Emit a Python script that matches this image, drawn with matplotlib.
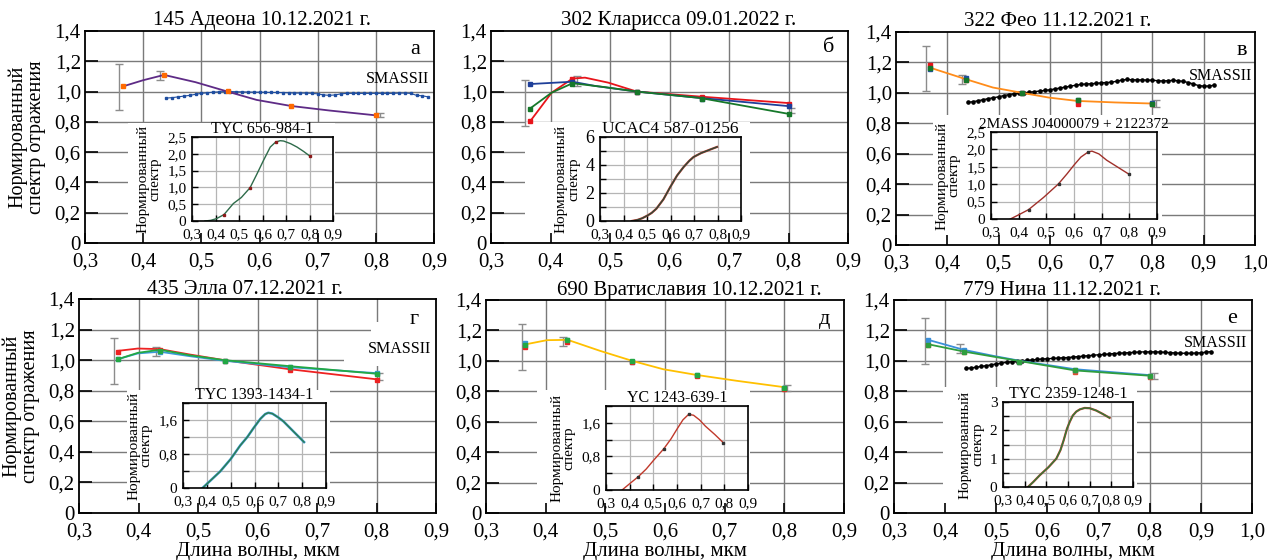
import matplotlib
matplotlib.use('Agg')
import matplotlib.pyplot as plt
from matplotlib.patches import Rectangle

plt.rcParams['font.family'] = 'serif'
plt.rcParams['font.serif'] = ['Liberation Serif', 'DejaVu Serif']

W, H = 1267, 560

X_TICKS = [0.3, 0.4, 0.5, 0.6, 0.7, 0.8, 0.9]
X_TICKS_WIDE = [0.3, 0.4, 0.5, 0.6, 0.7, 0.8, 0.9, 1.0]
Y_TICKS = [0, 0.2, 0.4, 0.6, 0.8, 1.0, 1.2, 1.4]

# UBVRI band centres (marker positions)
BANDS = [0.366, 0.436, 0.545, 0.654, 0.80]

# SMASSII wavelength grid
SMASS_WL = [0.44, 0.45, 0.46, 0.47, 0.48, 0.49, 0.50, 0.51, 0.52, 0.53, 0.54, 0.55,
            0.56, 0.57, 0.58, 0.59, 0.60, 0.61, 0.62, 0.63, 0.64, 0.65, 0.66, 0.67,
            0.68, 0.69, 0.70, 0.71, 0.72, 0.73, 0.74, 0.75, 0.76, 0.77, 0.78, 0.79,
            0.80, 0.81, 0.82, 0.83, 0.84, 0.85, 0.86, 0.87, 0.88, 0.89, 0.90, 0.91, 0.92]
SMASS_A = [0.957, 0.960, 0.965, 0.970, 0.975, 0.982, 0.988, 0.992, 0.996, 0.998,
           1.000, 1.000, 0.999, 0.998, 0.997, 0.996, 0.996, 0.995, 0.994, 0.994,
           0.993, 0.992, 0.990, 0.990, 0.990, 0.988, 0.985, 0.978, 0.975, 0.978,
           0.985, 0.988, 0.988, 0.988, 0.988, 0.988, 0.988, 0.988, 0.988, 0.988,
           0.990, 0.990, 0.988, 0.975, 0.972, 0.965]
SMASS_C = [0.937, 0.942, 0.948, 0.955, 0.962, 0.968, 0.974, 0.982, 0.988, 0.994,
           0.998, 1.000, 1.004, 1.008, 1.012, 1.016, 1.020, 1.026, 1.032, 1.038,
           1.044, 1.050, 1.055, 1.058, 1.060, 1.062, 1.066, 1.068, 1.070, 1.076,
           1.084, 1.088, 1.086, 1.085, 1.085, 1.084, 1.083, 1.080, 1.078, 1.080,
           1.082, 1.080, 1.075, 1.068, 1.058, 1.048, 1.044, 1.045, 1.050]
SMASS_F = [0.950, 0.953, 0.958, 0.963, 0.968, 0.974, 0.980, 0.985, 0.990, 0.994,
           0.997, 1.000, 1.003, 1.006, 1.009, 1.012, 1.014, 1.016, 1.018, 1.020,
           1.022, 1.025, 1.028, 1.031, 1.034, 1.037, 1.040, 1.042, 1.045, 1.048,
           1.050, 1.052, 1.054, 1.056, 1.058, 1.059, 1.059, 1.059, 1.058, 1.056,
           1.054, 1.052, 1.050, 1.050, 1.050, 1.051, 1.053, 1.057, 1.061]

# а) 145 Адеона
A_LX = [0.366, 0.40, 0.436, 0.49, 0.545, 0.595, 0.654, 0.72, 0.80]
A_LY = [1.035, 1.075, 1.11, 1.062, 1.0, 0.945, 0.905, 0.875, 0.843]
A_PTS = [1.04, 1.11, 1.004, 0.905, 0.845]
A_ERR_X = [0.359, 0.429, 0.807]
A_ERR_Y = [1.03, 1.107, 0.845]
A_ERR = [0.15, 0.03, 0.016]

# б) 302 Кларисса
B_BLUE_X = [0.367, 0.437, 0.475, 0.545, 0.651, 0.797]
B_BLUE_Y = [1.05, 1.065, 1.037, 1.0, 0.958, 0.905]
B_RED_X = [0.367, 0.402, 0.437, 0.458, 0.497, 0.545, 0.651, 0.797]
B_RED_Y = [0.81, 0.993, 1.086, 1.092, 1.059, 1.0, 0.967, 0.925]
B_GREEN_X = [0.367, 0.402, 0.437, 0.49, 0.545, 0.651, 0.797]
B_GREEN_Y = [0.892, 0.993, 1.055, 1.03, 1.0, 0.958, 0.855]
B_BLUE_PTS = [1.047, 1.06, 1.0, 0.954, 0.906]
B_RED_PTS = [0.807, 1.082, 1.0, 0.963, 0.921]
B_GREEN_PTS = [0.888, 1.051, 0.998, 0.954, 0.849]
B_ERR_X = [0.357, 0.444, 0.805]
B_ERR_Y = [0.924, 1.067, 0.873]
B_ERR = [0.15, 0.033, 0.017]

# в) 322 Фео
C_LX = [0.366, 0.436, 0.489, 0.546, 0.598, 0.653, 0.727, 0.798]
C_LY = [1.166, 1.09, 1.035, 1.0, 0.969, 0.947, 0.937, 0.93]
C_BLUE_PTS = [1.16, 1.095, 1.0, 0.955, 0.932]
C_RED_PTS = [1.18, 1.085, 0.998, 0.928, 0.925]
C_GREEN_PTS = [1.165, 1.085, 1.0, 0.95, 0.928]
C_ERR_X = [0.358, 0.428, 0.806]
C_ERR_Y = [1.16, 1.089, 0.93]
C_ERR = [0.15, 0.028, 0.022]

# г) 435 Элла
D_LX = [0.366, 0.399, 0.436, 0.486, 0.544, 0.653, 0.797]
D_RED_Y = [1.061, 1.076, 1.072, 1.037, 1.0, 0.941, 0.876]
D_BLUE_Y = [1.007, 1.044, 1.055, 1.026, 0.996, 0.954, 0.916]
D_GREEN_Y = [1.007, 1.048, 1.068, 1.032, 1.0, 0.961, 0.912]
D_RED_PTS = [1.056, 1.065, 0.995, 0.933, 0.868]
D_BLUE_PTS = [1.005, 1.055, 0.995, 0.952, 0.914]
D_GREEN_PTS = [1.005, 1.062, 0.995, 0.955, 0.909]
D_ERR_X = [0.358, 0.43, 0.805]
D_ERR_Y = [0.996, 1.055, 0.893]
D_ERR = [0.15, 0.028, 0.024]

# д) 690 Вратиславия
E_LX = [0.367, 0.402, 0.437, 0.491, 0.545, 0.597, 0.652, 0.72, 0.796]
E_LY = [1.109, 1.136, 1.138, 1.066, 1.0, 0.945, 0.908, 0.869, 0.829]
E_BLUE_PTS = [1.12, 1.135, 0.995, 0.905, 0.82]
E_RED_PTS = [1.09, 1.125, 0.995, 0.9, 0.818]
E_GREEN_PTS = [1.105, 1.137, 0.997, 0.907, 0.82]
E_ERR_X = [0.36, 0.429, 0.805]
E_ERR_Y = [1.091, 1.128, 0.82]
E_ERR = [0.15, 0.03, 0.02]

# е) 779 Нина
F_LX = [0.367, 0.437, 0.494, 0.547, 0.654, 0.801]
F_BLUE_Y = [1.138, 1.072, 1.033, 1.0, 0.945, 0.906]
F_GREEN_Y = [1.109, 1.061, 1.028, 0.998, 0.937, 0.902]
F_BLUE_PTS = [1.135, 1.073, 0.99, 0.942, 0.9]
F_RED_PTS = [1.105, 1.055, 0.99, 0.928, 0.897]
F_GREEN_PTS = [1.104, 1.058, 0.993, 0.937, 0.9]
F_ERR_X = [0.36, 0.429, 0.809]
F_ERR_Y = [1.132, 1.082, 0.9]
F_ERR = [0.152, 0.028, 0.019]

# comparison star spectra (insets)
IA_X = [0.355, 0.38, 0.404, 0.436, 0.476, 0.51, 0.547, 0.575, 0.604, 0.633, 0.656,
        0.675, 0.69, 0.72, 0.747, 0.775, 0.80]
IA_Y = [0.0, 0.02, 0.07, 0.19, 0.52, 0.70, 0.99, 1.38, 1.8, 2.2, 2.35,
        2.39, 2.38, 2.3, 2.2, 2.07, 1.94]
IA_DOT_X = [0.436, 0.547, 0.656, 0.80]
IA_DOT_Y = [0.19, 0.99, 2.35, 1.94]
IB_X = [0.435, 0.46, 0.48, 0.503, 0.52, 0.54, 0.57, 0.599, 0.628, 0.656, 0.68,
        0.698, 0.73, 0.765, 0.798]
IB_Y = [0.0, 0.08, 0.2, 0.4, 0.58, 0.88, 1.55, 2.43, 3.25, 3.86, 4.3,
        4.57, 4.85, 5.08, 5.29]
IC_X = [0.37, 0.40, 0.436, 0.49, 0.544, 0.575, 0.60, 0.625, 0.652, 0.665, 0.69,
        0.718, 0.76, 0.798]
IC_Y = [0.0, 0.12, 0.27, 0.62, 1.01, 1.3, 1.55, 1.78, 1.93, 1.95, 1.87,
        1.69, 1.48, 1.29]
IC_DOT_X = [0.436, 0.544, 0.652, 0.798]
IC_DOT_Y = [0.27, 1.01, 1.93, 1.29]
ID_X = [0.382, 0.42, 0.456, 0.50, 0.54, 0.57, 0.596, 0.625, 0.645, 0.658, 0.675,
        0.70, 0.721, 0.76, 0.808]
ID_Y = [0.0, 0.2, 0.39, 0.68, 1.0, 1.2, 1.41, 1.63, 1.74, 1.77, 1.75,
        1.66, 1.57, 1.35, 1.08]
IE_X = [0.368, 0.40, 0.437, 0.47, 0.50, 0.544, 0.575, 0.60, 0.625, 0.649, 0.67,
        0.695, 0.72, 0.76, 0.795]
IE_Y = [0.0, 0.15, 0.32, 0.5, 0.70, 0.98, 1.22, 1.45, 1.67, 1.80, 1.78,
        1.67, 1.52, 1.32, 1.13]
IE_DOT_X = [0.437, 0.544, 0.649, 0.795]
IE_DOT_Y = [0.32, 0.98, 1.80, 1.13]
IF_X = [0.415, 0.44, 0.469, 0.51, 0.546, 0.565, 0.58, 0.595, 0.608, 0.622, 0.638,
        0.655, 0.677, 0.70, 0.73, 0.76, 0.792]
IF_Y = [0.0, 0.18, 0.41, 0.7, 1.0, 1.3, 1.65, 2.05, 2.3, 2.52, 2.66,
        2.74, 2.79, 2.78, 2.7, 2.58, 2.44]

GRID = '#7a7a7a'
ERRC = '#8c8c8c'


def frac(l, t, r, b):
    return [l / W, 1 - b / H, (r - l) / W, (b - t) / H]


def comma(v):
    return '0' if v == 0 else f'{v:.1f}'.replace('.', ',')


fig = plt.figure(figsize=(W / 100, H / 100), dpi=100)


def panel(box, xmax, title, tx, tpad, letter, lxy, cover):
    ax = fig.add_axes(frac(*box))
    xt = X_TICKS if xmax < 0.95 else X_TICKS_WIDE
    ax.set_xlim(0.3, xmax)
    ax.set_ylim(0, 1.4)
    ax.set_xticks(xt, [comma(v) for v in xt])
    ax.set_yticks(Y_TICKS, [comma(v) for v in Y_TICKS])
    ax.tick_params(axis='y', direction='in', length=9, width=1.2, labelsize=15, pad=3)
    ax.tick_params(axis='x', direction='in', length=7, width=1.2, labelsize=15, pad=7)
    for s in ax.spines.values():
        s.set_linewidth(1.3)
    for v in xt[1:-1]:
        ax.axvline(v, color=GRID, lw=1, zorder=0.5)
    for v in Y_TICKS[1:-1]:
        ax.axhline(v, color=GRID, lw=1, zorder=0.5)
    l, t, r, b = cover
    ax.add_patch(Rectangle((l / W, 1 - b / H), (r - l) / W, (b - t) / H,
                           transform=fig.transFigure, fc='white', ec='none', zorder=0.8))
    ax.set_title(title, fontsize=15, x=tx, pad=tpad)
    ax.text(lxy[0], lxy[1], letter, fontsize=16, ha='center', va='center')
    return ax


def errs(ax, x, y, e):
    ax.errorbar(x, y, yerr=e, fmt='none', ecolor=ERRC, elinewidth=1,
                capsize=3, capthick=1, zorder=1.5)


def inset(box, title, yticks, ylabels, ysize=11):
    ax = fig.add_axes(frac(*box))
    ax.set_xlim(0.3, 0.9)
    ax.set_ylim(yticks[0], yticks[-1])
    ax.set_xticks(X_TICKS, [comma(v) for v in X_TICKS])
    ax.set_yticks(yticks, ylabels)
    ax.tick_params(axis='x', direction='in', length=4, width=1, labelsize=11, pad=5)
    ax.tick_params(axis='y', direction='in', length=4, width=1, labelsize=ysize, pad=4)
    ax.grid(True, color='#b5b5b5', lw=0.9)
    ax.set_axisbelow(True)
    for s in ax.spines.values():
        s.set_linewidth(1.2)
    ax.set_title(title, fontsize=11.5, pad=3)
    ax.set_ylabel('Нормированный\nспектр', fontsize=11, labelpad=4, linespacing=0.95)
    return ax


YT_25 = [0, 0.5, 1.0, 1.5, 2.0, 2.5]
YL_25 = [comma(v) for v in YT_25]
YT_20 = [0, 0.4, 0.8, 1.2, 1.6, 2.0]
YL_20 = ['0', '', '0,8', '', '1,6', '']

# ---------- а ----------
ax = panel((85, 31, 434, 243), 0.9, '145 Адеона 10.12.2021 г.', 0.507, 4,
           'а', (0.867, 1.275), (128, 123, 335, 243))
ax.set_ylabel('Нормированный\nспектр отражения', fontsize=14.5, labelpad=6, linespacing=1.0)
errs(ax, A_ERR_X, A_ERR_Y, A_ERR)
ax.plot(SMASS_WL[:46], SMASS_A, '-s', color='#1F4EA0', lw=0.8, ms=2, zorder=2)
ax.plot(A_LX, A_LY, color='#5E2B86', lw=1.3, zorder=3)
ax.plot(BANDS, A_PTS, 's', color='#FF6A00', ms=3.5, zorder=4)
ax.text(0.838, 1.08, 'SMASSII', fontsize=11.5, ha='center', va='center')
ia = inset((192, 137, 333, 221), 'TYC 656-984-1', YT_25, YL_25)
ia.plot(IA_X, IA_Y, color='#2E6B4A', lw=1)
ia.plot(IA_DOT_X, IA_DOT_Y, ls='none', marker='s', ms=1.5, color='#8B1A1A')

# ---------- б ----------
ax = panel((491, 31, 848, 243), 0.9, '302 Кларисса 09.01.2022 г.', 0.525, 4,
           'б', (0.868, 1.29), (525, 122, 750, 243))
errs(ax, B_ERR_X, B_ERR_Y, B_ERR)
ax.plot(B_RED_X, B_RED_Y, color='#E8141B', lw=1.3, zorder=2)
ax.plot(B_BLUE_X, B_BLUE_Y, color='#1F3F99', lw=1.3, zorder=2)
ax.plot(B_GREEN_X, B_GREEN_Y, color='#16782A', lw=1.3, zorder=2)
ax.plot(BANDS, B_RED_PTS, 's', color='#E8141B', ms=3.5, zorder=3)
ax.plot(BANDS, B_BLUE_PTS, 's', color='#1F3F99', ms=3.5, zorder=3)
ax.plot(BANDS, B_GREEN_PTS, 's', color='#16782A', ms=3.5, zorder=3)
ib = inset((600, 137, 741, 221), 'UCAC4 587-01256', [0, 1, 2, 3, 4, 5, 6],
           ['0', '', '2', '', '4', '', '6'], ysize=13)
ib.title.set_fontsize(12.5)
ib.plot(IB_X, IB_Y, color='#C0392B', lw=1.6)
ib.plot(IB_X, IB_Y, color='#2D4A3A', lw=1)

# ---------- в ----------
ax = panel((896, 32, 1255, 245), 1.0, '322 Фео 11.12.2021 г.', 0.45, 4,
           'в', (0.975, 1.28), (933, 115, 1162, 245))
errs(ax, C_ERR_X, C_ERR_Y, C_ERR)
ax.plot(SMASS_WL, SMASS_C, '-o', color='black', lw=1, ms=2.3, zorder=2)
ax.plot(C_LX, C_LY, color='#FF8C1A', lw=1.3, zorder=3)
ax.plot(BANDS, C_RED_PTS, 's', color='#E8141B', ms=3.5, zorder=4)
ax.plot(BANDS, C_BLUE_PTS, 's', color='#1F4EA0', ms=3.5, zorder=4)
ax.plot(BANDS, C_GREEN_PTS, 's', color='#16782A', ms=3.5, zorder=4)
ax.text(0.932, 1.109, 'SMASSII', fontsize=11.5, ha='center', va='center')
ic = inset((991, 132, 1157, 219), '2MASS J04000079 + 2122372', YT_25, YL_25)
ic.title.set_fontsize(11)
ic.plot(IC_X, IC_Y, color='#A0302A', lw=1)
ic.plot(IC_DOT_X, IC_DOT_Y, ls='none', marker='s', ms=1.5, color='#333333')

# ---------- г ----------
ax = panel((79, 299, 436, 513), 0.9, '435 Элла 07.12.2021 г.', 0.465, 2,
           'г', (0.864, 1.264), (127, 390, 330, 513))
ax.add_patch(Rectangle((0.745, 0.96), 0.155, 0.08, fc='white', ec='none', zorder=0.8))
ax.add_patch(Rectangle((0.79, 1.04), 0.11, 0.21, fc='white', ec='none', zorder=0.8))
ax.set_ylabel('Нормированный\nспектр отражения', fontsize=14.5, labelpad=6, linespacing=1.0)
ax.set_xlabel('Длина волны, мкм', fontsize=15, labelpad=0)
errs(ax, D_ERR_X, D_ERR_Y, D_ERR)
ax.plot(D_LX, D_RED_Y, color='#EE2222', lw=1.3, zorder=2)
ax.plot(D_LX, D_BLUE_Y, color='#3A9AD9', lw=1.3, zorder=2)
ax.plot(D_LX, D_GREEN_Y, color='#22A844', lw=1.3, zorder=2)
ax.plot(BANDS, D_RED_PTS, 's', color='#EE2222', ms=3.5, zorder=3)
ax.plot(BANDS, D_BLUE_PTS, 's', color='#3A9AD9', ms=3.5, zorder=3)
ax.plot(BANDS, D_GREEN_PTS, 's', color='#22A844', ms=3.5, zorder=3)
ax.text(0.839, 1.075, 'SMASSII', fontsize=11.5, ha='center', va='center')
idd = inset((183, 403, 326, 488), 'TYC 1393-1434-1', YT_20, YL_20)
idd.plot(ID_X, ID_Y, color='#3A9AD9', lw=1.8)
idd.plot(ID_X, ID_Y, color='#2E7D4F', lw=1)

# ---------- д ----------
ax = panel((486, 300, 844, 513), 0.9, '690 Вратиславия 10.12.2021 г.', 0.567, 2,
           'д', (0.868, 1.27), (537, 390, 750, 513))
ax.set_xlabel('Длина волны, мкм', fontsize=15, labelpad=0)
errs(ax, E_ERR_X, E_ERR_Y, E_ERR)
ax.plot(E_LX, E_LY, color='#FFC000', lw=1.3, zorder=2)
ax.plot(BANDS, E_BLUE_PTS, 's', color='#3A9AD9', ms=3.5, zorder=3)
ax.plot(BANDS, E_RED_PTS, 's', color='#EE2222', ms=3.5, zorder=3)
ax.plot(BANDS, E_GREEN_PTS, 's', color='#22A844', ms=3.5, zorder=3)
ie = inset((606, 406, 748, 490), 'YC 1243-639-1', YT_20, YL_20)
ie.plot(IE_X, IE_Y, color='#C0392B', lw=1)
ie.plot(IE_DOT_X, IE_DOT_Y, ls='none', marker='s', ms=1.5, color='#333333')

# ---------- е ----------
ax = panel((894, 300, 1252, 513), 1.0, '779 Нина 11.12.2021 г.', 0.47, 2,
           'е', (0.961, 1.28), (943, 387, 1137, 513))
ax.set_xlabel('Длина волны, мкм', fontsize=15, labelpad=0)
errs(ax, F_ERR_X, F_ERR_Y, F_ERR)
ax.plot(SMASS_WL, SMASS_F, '-o', color='black', lw=1, ms=2.3, zorder=2)
ax.plot(F_LX, F_BLUE_Y, color='#3A8FD9', lw=1.3, zorder=3)
ax.plot(F_LX, F_GREEN_Y, color='#2E9E3E', lw=1.3, zorder=3)
ax.plot(BANDS, F_RED_PTS, 's', color='#E05030', ms=3.5, zorder=4)
ax.plot(BANDS, F_BLUE_PTS, 's', color='#3A8FD9', ms=3.5, zorder=4)
ax.plot(BANDS, F_GREEN_PTS, 's', color='#2E9E3E', ms=3.5, zorder=4)
ax.text(0.928, 1.117, 'SMASSII', fontsize=11.5, ha='center', va='center')
iff = inset((1003, 402, 1133, 487), 'TYC 2359-1248-1', [0, 0.5, 1, 1.5, 2, 2.5, 3],
            ['0', '', '1', '', '2', '', '3'])
iff.plot(IF_X, IF_Y, color='#C0392B', lw=1.6)
iff.plot(IF_X, IF_Y, color='#2E7D3A', lw=1)

fig.savefig('out.png', dpi=100)
